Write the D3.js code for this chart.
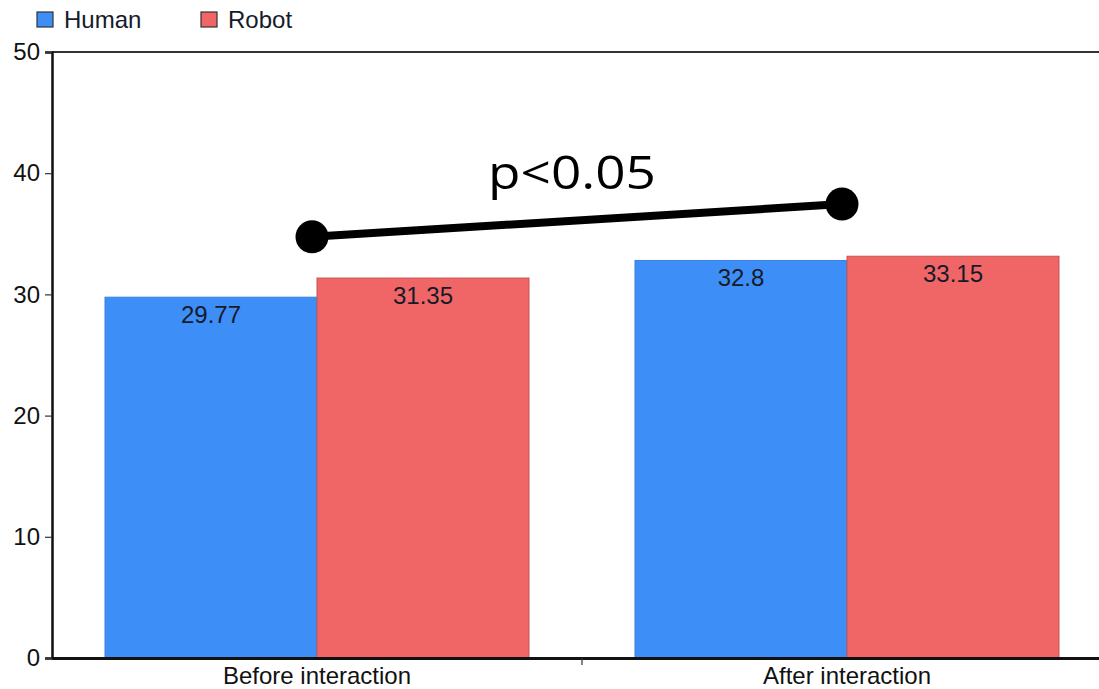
<!DOCTYPE html>
<html>
<head>
<meta charset="utf-8">
<script src="https://cdn.jsdelivr.net/npm/d3@7"></script>
<style>
  html, body { margin: 0; padding: 0; background: #ffffff; overflow: hidden; }
  svg { display: block; }
</style>
</head>
<body>
<svg id="chart" width="1099" height="689"></svg>
<script>
// ---- data ----
const categories = ["Before interaction", "After interaction"];
const series = ["Human", "Robot"];
const humanValues = [29.77, 32.8];
const robotValues = [31.35, 33.15];
const valueLabels = [["29.77", "31.35"], ["32.8", "33.15"]];
const yTicks = [0, 10, 20, 30, 40, 50];
const annotationValues = [34.75, 37.45];
const annotationText = "p<0.05";

// ---- setup ----
const svg = d3.select("#chart");
const colors = { Human: "#3e8ef7", Robot: "#f06666" };
const strokes = { Human: "#3a7fe0", Robot: "#c85555" };
const fontMain = "'Liberation Sans', Arial, sans-serif";

const plotLeft = 52, plotRight = 1112, plotTop = 52, plotBottom = 658;

const y = d3.scaleLinear().domain([0, 50]).range([plotBottom, plotTop]);
const x0 = d3.scaleBand().domain(categories).range([plotLeft, plotRight]).padding(0);
const bw = x0.bandwidth();
const x1 = d3.scaleBand().domain(series).range([bw * 0.1, bw * 0.9]).padding(0);

const rows = categories.map((c, i) => ({
  category: c,
  values: [
    { key: "Human", value: humanValues[i], label: valueLabels[i][0] },
    { key: "Robot", value: robotValues[i], label: valueLabels[i][1] }
  ]
}));

// frame top line
svg.append("line")
  .attr("x1", plotLeft).attr("x2", plotRight)
  .attr("y1", plotTop).attr("y2", plotTop)
  .attr("stroke", "#333").attr("stroke-width", 2);

// bars
const groups = svg.selectAll("g.cat").data(rows).enter().append("g")
  .attr("class", "cat")
  .attr("transform", d => `translate(${x0(d.category)},0)`);

groups.selectAll("rect").data(d => d.values).enter().append("rect")
  .attr("x", d => x1(d.key))
  .attr("y", d => y(d.value))
  .attr("width", x1.bandwidth())
  .attr("height", d => y(0) - y(d.value))
  .attr("fill", d => colors[d.key])
  .attr("stroke", d => strokes[d.key])
  .attr("stroke-width", 1);

groups.selectAll("text.val").data(d => d.values).enter().append("text")
  .attr("class", "val")
  .attr("x", d => x1(d.key) + x1.bandwidth() / 2)
  .attr("y", d => y(d.value) + 26)
  .attr("text-anchor", "middle")
  .attr("font-family", fontMain)
  .attr("font-size", 24)
  .attr("fill", "#161a2a")
  .text(d => d.label);

// y axis
const yAxis = d3.axisLeft(y).tickValues(yTicks).tickSize(7).tickPadding(5).tickFormat(d3.format("d"));
const gy = svg.append("g").attr("transform", `translate(${plotLeft},0)`).call(yAxis);
gy.select(".domain").attr("stroke", "#111").attr("stroke-width", 2.5);
gy.selectAll(".tick line").attr("stroke", "#333").attr("stroke-width", 1.2);
gy.selectAll(".tick text")
  .attr("font-family", fontMain).attr("font-size", 24).attr("fill", "#111");

// x axis
const xAxis = d3.axisBottom(x0).tickSize(0).tickPadding(9);
const gx = svg.append("g").attr("transform", `translate(0,${plotBottom})`).call(xAxis);
gx.select(".domain").attr("stroke", "#111").attr("stroke-width", 3);
gx.selectAll(".tick text")
  .attr("font-family", fontMain).attr("font-size", 24).attr("fill", "#111")
  .attr("dy", "0.71em");
// boundary tick between categories
gx.selectAll("line.sep").data(categories.slice(1)).enter().append("line")
  .attr("class", "sep")
  .attr("x1", d => x0(d)).attr("x2", d => x0(d))
  .attr("y1", 0).attr("y2", 7)
  .attr("stroke", "#333").attr("stroke-width", 1.2);

// legend
const legend = svg.append("g");
const legendX = [37, 201];
series.forEach((s, i) => {
  const g = legend.append("g").attr("transform", `translate(${legendX[i]},12)`);
  g.append("rect").attr("x", 0).attr("y", 0).attr("width", 16).attr("height", 15)
    .attr("fill", colors[s]).attr("stroke", "#333").attr("stroke-width", 1.2);
  g.append("text").attr("x", 27).attr("y", 16)
    .attr("font-family", fontMain).attr("font-size", 24).attr("fill", "#161a2a")
    .text(s);
});

// significance annotation
const pts = categories.map((c, i) => [x0(c) + bw / 2 - 5, y(annotationValues[i])]);
const ann = svg.append("g");
ann.append("line")
  .attr("x1", pts[0][0]).attr("y1", pts[0][1])
  .attr("x2", pts[1][0]).attr("y2", pts[1][1])
  .attr("stroke", "#000").attr("stroke-width", 8);
ann.selectAll("circle").data(pts).enter().append("circle")
  .attr("cx", d => d[0]).attr("cy", d => d[1]).attr("r", 16.5).attr("fill", "#000");
ann.append("text")
  .attr("x", 488).attr("y", 189)
  .attr("font-family", "'Open Sans', 'Noto Sans', sans-serif")
  .attr("font-size", 45)
  .attr("textLength", 168).attr("lengthAdjust", "spacingAndGlyphs")
  .attr("fill", "#000")
  .text(annotationText);
</script>
</body>
</html>
